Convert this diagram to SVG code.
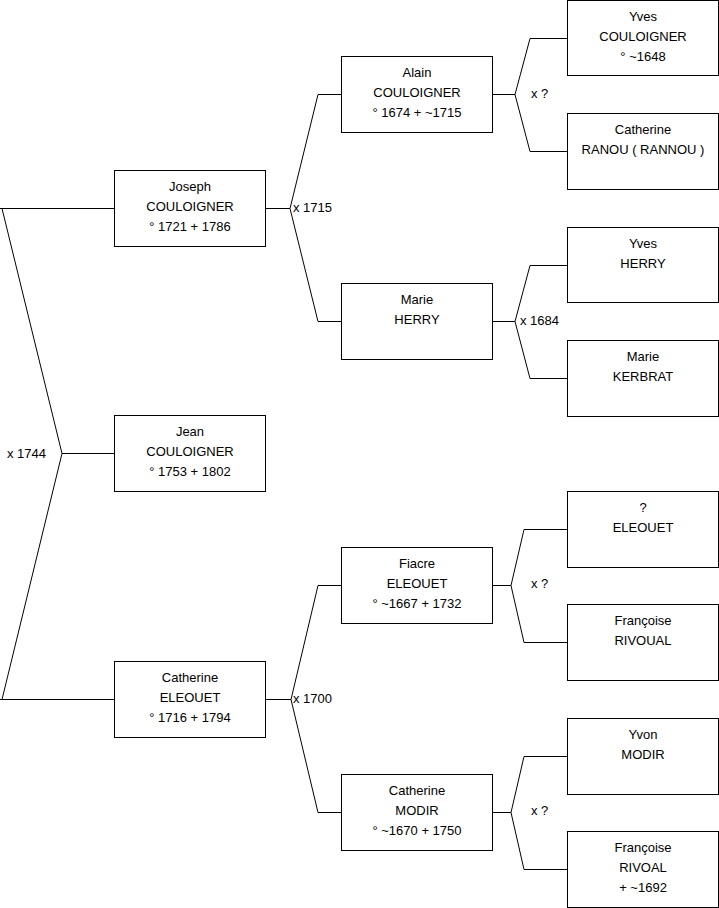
<svg xmlns="http://www.w3.org/2000/svg" width="719" height="908" viewBox="0 0 719 908">
<style>
.box{fill:#fff;stroke:#000;stroke-width:1}
.ln{fill:none;stroke:#000;stroke-width:1}
text{font-family:"Liberation Sans",Arial,sans-serif;font-size:13px;fill:#000}
.c{text-anchor:middle}
</style>
<rect width="719" height="908" fill="#fff"/>
<g id="connectors">
<path class="ln" d="M0,208.5H114.5M0,699.5H114.5M2,208.5L62,453.5L2,699.5M62,453.5H114.5"/>
<path class="ln" d="M265.5,208.5H290M318,94.5L290,208.5L318,321.5M318,94.5H341.5M318,321.5H341.5"/>
<path class="ln" d="M265.5,699.5H291M318,585.5L291,699.5L318,812.5M318,585.5H341.5M318,812.5H341.5"/>
<path class="ln" d="M492.5,94.5H515M530,38.5L515,94.5L530,151.5M530,38.5H567.5M530,151.5H567.5"/>
<path class="ln" d="M492.5,321.5H515M530,265.5L515,321.5L530,378.5M530,265.5H567.5M530,378.5H567.5"/>
<path class="ln" d="M492.5,585.5H511M524,529.5L511,585.5L524,642.5M524,529.5H567.5M524,642.5H567.5"/>
<path class="ln" d="M492.5,812.5H511M524,756.5L511,812.5L524,869.5M524,756.5H567.5M524,869.5H567.5"/>
<text x="7" y="458">x 1744</text>
<text x="293" y="212">x 1715</text>
<text x="293" y="703">x 1700</text>
<text x="531" y="98">x ?</text>
<text x="520" y="325">x 1684</text>
<text x="531" y="588">x ?</text>
<text x="531" y="815">x ?</text>
</g>
<g id="joseph"><rect class="box" x="114.5" y="170.5" width="151" height="76"/><text class="c" x="190" y="191">Joseph</text><text class="c" x="190" y="211">COULOIGNER</text><text class="c" x="190" y="231">° 1721 + 1786</text></g>
<g id="jean"><rect class="box" x="114.5" y="415.5" width="151" height="76"/><text class="c" x="190" y="436">Jean</text><text class="c" x="190" y="456">COULOIGNER</text><text class="c" x="190" y="476">° 1753 + 1802</text></g>
<g id="catherine-eleouet"><rect class="box" x="114.5" y="661.5" width="151" height="76"/><text class="c" x="190" y="682">Catherine</text><text class="c" x="190" y="702">ELEOUET</text><text class="c" x="190" y="722">° 1716 + 1794</text></g>
<g id="alain"><rect class="box" x="341.5" y="56.5" width="151" height="76"/><text class="c" x="417" y="77">Alain</text><text class="c" x="417" y="97">COULOIGNER</text><text class="c" x="417" y="117">° 1674 + ~1715</text></g>
<g id="marie-herry"><rect class="box" x="341.5" y="283.5" width="151" height="76"/><text class="c" x="417" y="304">Marie</text><text class="c" x="417" y="324">HERRY</text></g>
<g id="fiacre"><rect class="box" x="341.5" y="547.5" width="151" height="76"/><text class="c" x="417" y="568">Fiacre</text><text class="c" x="417" y="588">ELEOUET</text><text class="c" x="417" y="608">° ~1667 + 1732</text></g>
<g id="catherine-modir"><rect class="box" x="341.5" y="774.5" width="151" height="76"/><text class="c" x="417" y="795">Catherine</text><text class="c" x="417" y="815">MODIR</text><text class="c" x="417" y="835">° ~1670 + 1750</text></g>
<g id="yves-couloigner"><rect class="box" x="567.5" y="0.5" width="151" height="75"/><text class="c" x="643" y="21">Yves</text><text class="c" x="643" y="41">COULOIGNER</text><text class="c" x="643" y="61">° ~1648</text></g>
<g id="catherine-ranou"><rect class="box" x="567.5" y="113.5" width="151" height="76"/><text class="c" x="643" y="134">Catherine</text><text class="c" x="643" y="154">RANOU ( RANNOU )</text></g>
<g id="yves-herry"><rect class="box" x="567.5" y="227.5" width="151" height="75"/><text class="c" x="643" y="248">Yves</text><text class="c" x="643" y="268">HERRY</text></g>
<g id="marie-kerbrat"><rect class="box" x="567.5" y="340.5" width="151" height="76"/><text class="c" x="643" y="361">Marie</text><text class="c" x="643" y="381">KERBRAT</text></g>
<g id="eleouet"><rect class="box" x="567.5" y="491.5" width="151" height="76"/><text class="c" x="643" y="512">?</text><text class="c" x="643" y="532">ELEOUET</text></g>
<g id="francoise-rivoual"><rect class="box" x="567.5" y="604.5" width="151" height="76"/><text class="c" x="643" y="625">Françoise</text><text class="c" x="643" y="645">RIVOUAL</text></g>
<g id="yvon-modir"><rect class="box" x="567.5" y="718.5" width="151" height="76"/><text class="c" x="643" y="739">Yvon</text><text class="c" x="643" y="759">MODIR</text></g>
<g id="francoise-rivoal"><rect class="box" x="567.5" y="831.5" width="151" height="76"/><text class="c" x="643" y="852">Françoise</text><text class="c" x="643" y="872">RIVOAL</text><text class="c" x="643" y="892">+ ~1692</text></g>
</svg>
